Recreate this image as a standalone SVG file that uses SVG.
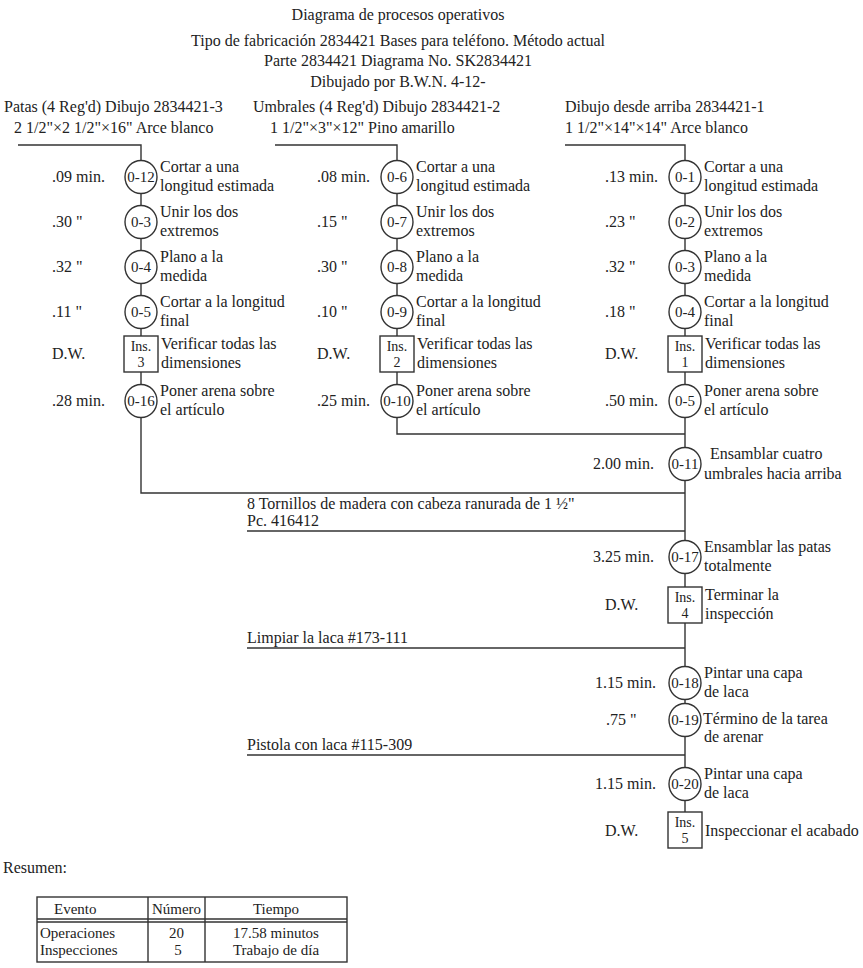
<svg xmlns="http://www.w3.org/2000/svg" width="863" height="968" viewBox="0 0 863 968">
<style>
text{font-family:"Liberation Serif","Times New Roman",serif;font-size:16px;fill:#222}
.m{text-anchor:middle}
.n{font-size:15px;text-anchor:middle}
.b{font-size:14px;text-anchor:middle}
.tb{font-size:15px}
.ln{fill:none;stroke:#333;stroke-width:1.4}
.op{fill:#fff;stroke:#333;stroke-width:1.4}
</style>
<rect width="863" height="968" fill="#fff"/>
<g id="header">
<text x="398" y="20" class="m">Diagrama de procesos operativos</text>
<text x="398" y="46" class="m">Tipo de fabricación 2834421 Bases para teléfono. Método actual</text>
<text x="398" y="66" class="m">Parte 2834421 Diagrama No. SK2834421</text>
<text x="398" y="87" class="m">Dibujado por B.W.N. 4-12-</text>
</g>
<g id="connectors">
<path class="ln" d="M18 145H141V493H685"/>
<path class="ln" d="M275 145H397V434H685"/>
<path class="ln" d="M565 145H685V848"/>
<path class="ln" d="M247 531H685"/>
<path class="ln" d="M247 648H685"/>
<path class="ln" d="M247 755H685"/>
</g>
<g id="material-1">
<text x="4" y="112">Patas (4 Reg'd) Dibujo 2834421-3</text>
<text x="14" y="133">2 1/2"×2 1/2"×16" Arce blanco</text>
</g>
<g id="material-2">
<text x="253" y="112">Umbrales (4 Reg'd) Dibujo 2834421-2</text>
<text x="270" y="133">1 1/2"×3"×12" Pino amarillo</text>
</g>
<g id="material-3">
<text x="565" y="112">Dibujo desde arriba 2834421-1</text>
<text x="565" y="133">1 1/2"×14"×14" Arce blanco</text>
</g>
<!-- Column 1 -->
<g id="c1-o12"><ellipse class="op" cx="141" cy="177" rx="16" ry="16.5"/><text x="141" y="182" class="n">0-12</text><text x="52" y="182">.09 min.</text><text x="160" y="172">Cortar a una</text><text x="160" y="191">longitud estimada</text></g>
<g id="c1-o3"><ellipse class="op" cx="141" cy="222" rx="16" ry="16.5"/><text x="141" y="227" class="n">0-3</text><text x="52" y="227">.30 "</text><text x="160" y="217">Unir los dos</text><text x="160" y="236">extremos</text></g>
<g id="c1-o4"><ellipse class="op" cx="141" cy="267" rx="16" ry="16.5"/><text x="141" y="272" class="n">0-4</text><text x="52" y="272">.32 "</text><text x="160" y="262">Plano a la</text><text x="160" y="281">medida</text></g>
<g id="c1-o5"><ellipse class="op" cx="141" cy="312" rx="16" ry="16.5"/><text x="141" y="317" class="n">0-5</text><text x="52" y="317">.11 "</text><text x="160" y="307">Cortar a la longitud</text><text x="160" y="326">final</text></g>
<g id="c1-ins3"><rect class="op" x="124" y="336" width="34" height="36"/><text x="141" y="351" class="b">Ins.</text><text x="141" y="367" class="b">3</text><text x="52" y="359">D.W.</text><text x="161" y="349">Verificar todas las</text><text x="161" y="368">dimensiones</text></g>
<g id="c1-o16"><ellipse class="op" cx="141" cy="401" rx="16" ry="16.5"/><text x="141" y="406" class="n">0-16</text><text x="52" y="406">.28 min.</text><text x="160" y="396">Poner arena sobre</text><text x="160" y="415">el artículo</text></g>
<!-- Column 2 -->
<g id="c2-o6"><ellipse class="op" cx="397" cy="177" rx="16" ry="16.5"/><text x="397" y="182" class="n">0-6</text><text x="317" y="182">.08 min.</text><text x="416" y="172">Cortar a una</text><text x="416" y="191">longitud estimada</text></g>
<g id="c2-o7"><ellipse class="op" cx="397" cy="222" rx="16" ry="16.5"/><text x="397" y="227" class="n">0-7</text><text x="317" y="227">.15 "</text><text x="416" y="217">Unir los dos</text><text x="416" y="236">extremos</text></g>
<g id="c2-o8"><ellipse class="op" cx="397" cy="267" rx="16" ry="16.5"/><text x="397" y="272" class="n">0-8</text><text x="317" y="272">.30 "</text><text x="416" y="262">Plano a la</text><text x="416" y="281">medida</text></g>
<g id="c2-o9"><ellipse class="op" cx="397" cy="312" rx="16" ry="16.5"/><text x="397" y="317" class="n">0-9</text><text x="317" y="317">.10 "</text><text x="416" y="307">Cortar a la longitud</text><text x="416" y="326">final</text></g>
<g id="c2-ins2"><rect class="op" x="380" y="336" width="34" height="36"/><text x="397" y="351" class="b">Ins.</text><text x="397" y="367" class="b">2</text><text x="317" y="359">D.W.</text><text x="417" y="349">Verificar todas las</text><text x="417" y="368">dimensiones</text></g>
<g id="c2-o10"><ellipse class="op" cx="397" cy="401" rx="16" ry="16.5"/><text x="397" y="406" class="n">0-10</text><text x="317" y="406">.25 min.</text><text x="416" y="396">Poner arena sobre</text><text x="416" y="415">el artículo</text></g>
<!-- Column 3 -->
<g id="c3-o1"><ellipse class="op" cx="685" cy="177" rx="16" ry="16.5"/><text x="685" y="182" class="n">0-1</text><text x="605" y="182">.13 min.</text><text x="704" y="172">Cortar a una</text><text x="704" y="191">longitud estimada</text></g>
<g id="c3-o2"><ellipse class="op" cx="685" cy="222" rx="16" ry="16.5"/><text x="685" y="227" class="n">0-2</text><text x="605" y="227">.23 "</text><text x="704" y="217">Unir los dos</text><text x="704" y="236">extremos</text></g>
<g id="c3-o3"><ellipse class="op" cx="685" cy="267" rx="16" ry="16.5"/><text x="685" y="272" class="n">0-3</text><text x="605" y="272">.32 "</text><text x="704" y="262">Plano a la</text><text x="704" y="281">medida</text></g>
<g id="c3-o4"><ellipse class="op" cx="685" cy="312" rx="16" ry="16.5"/><text x="685" y="317" class="n">0-4</text><text x="605" y="317">.18 "</text><text x="704" y="307">Cortar a la longitud</text><text x="704" y="326">final</text></g>
<g id="c3-ins1"><rect class="op" x="668" y="336" width="34" height="36"/><text x="685" y="351" class="b">Ins.</text><text x="685" y="367" class="b">1</text><text x="605" y="359">D.W.</text><text x="705" y="349">Verificar todas las</text><text x="705" y="368">dimensiones</text></g>
<g id="c3-o5"><ellipse class="op" cx="685" cy="401" rx="16" ry="16.5"/><text x="685" y="406" class="n">0-5</text><text x="605" y="406">.50 min.</text><text x="704" y="396">Poner arena sobre</text><text x="704" y="415">el artículo</text></g>
<!-- Main line -->
<g id="o11"><ellipse class="op" cx="685" cy="464" rx="16" ry="16.5"/><text x="685" y="469" class="n">0-11</text><text x="593" y="469">2.00 min.</text><text x="710" y="459">Ensamblar cuatro</text><text x="704" y="479">umbrales hacia arriba</text></g>
<g id="tornillos"><text x="247" y="509">8 Tornillos de madera con cabeza ranurada de 1 ½"</text><text x="247" y="526">Pc. 416412</text></g>
<g id="o17"><ellipse class="op" cx="685" cy="557" rx="16" ry="16.5"/><text x="685" y="562" class="n">0-17</text><text x="593" y="562">3.25 min.</text><text x="704" y="552">Ensamblar las patas</text><text x="704" y="571">totalmente</text></g>
<g id="ins4"><rect class="op" x="668" y="587" width="34" height="36"/><text x="685" y="602" class="b">Ins.</text><text x="685" y="618" class="b">4</text><text x="605" y="610">D.W.</text><text x="705" y="600">Terminar la</text><text x="705" y="619">inspección</text></g>
<g id="laca1"><text x="247" y="643">Limpiar la laca #173-111</text></g>
<g id="o18"><ellipse class="op" cx="685" cy="683" rx="16" ry="16.5"/><text x="685" y="688" class="n">0-18</text><text x="595" y="688">1.15 min.</text><text x="704" y="678">Pintar una capa</text><text x="704" y="697">de laca</text></g>
<g id="o19"><ellipse class="op" cx="685" cy="720" rx="16" ry="16.5"/><text x="685" y="725" class="n">0-19</text><text x="606" y="725">.75 "</text><text x="703" y="724">Término de la tarea</text><text x="704" y="742">de arenar</text></g>
<g id="laca2"><text x="247" y="750">Pistola con laca #115-309</text></g>
<g id="o20"><ellipse class="op" cx="685" cy="784" rx="16" ry="16.5"/><text x="685" y="789" class="n">0-20</text><text x="595" y="789">1.15 min.</text><text x="704" y="779">Pintar una capa</text><text x="704" y="798">de laca</text></g>
<g id="ins5"><rect class="op" x="668" y="812" width="34" height="36"/><text x="685" y="827" class="b">Ins.</text><text x="685" y="843" class="b">5</text><text x="605" y="836">D.W.</text><text x="705" y="836">Inspeccionar el acabado</text></g>
<!-- Summary -->
<g id="summary">
<text x="3" y="873">Resumen:</text>
<rect x="37" y="897" width="310" height="65" fill="none" stroke="#333" stroke-width="1.4"/>
<path class="ln" d="M37 919H347M37 922H347M148 897V962M205 897V962"/>
<text x="54" y="914" class="tb">Evento</text>
<text x="176.5" y="914" class="tb m">Número</text>
<text x="276" y="914" class="tb m">Tiempo</text>
<text x="40" y="938" class="tb">Operaciones</text>
<text x="40" y="955" class="tb">Inspecciones</text>
<text x="176.5" y="938" class="tb m">20</text>
<text x="178" y="955" class="tb m">5</text>
<text x="276" y="938" class="tb m">17.58 minutos</text>
<text x="276" y="955" class="tb m">Trabajo de día</text>
</g>
</svg>
